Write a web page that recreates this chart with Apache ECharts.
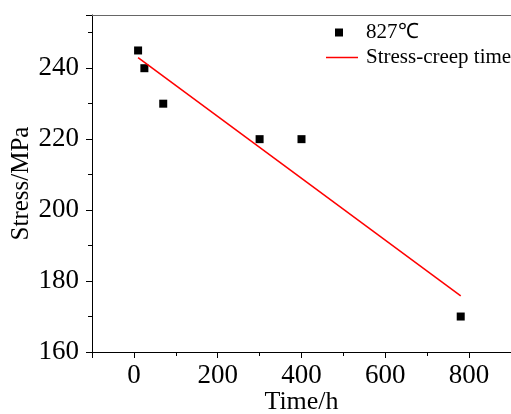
<!DOCTYPE html>
<html>
<head>
<meta charset="utf-8">
<script src="https://cdn.jsdelivr.net/npm/echarts@6/dist/echarts.min.js"></script>
<style>
  html, body { margin: 0; padding: 0; background: #fff; }
  #chart { width: 511px; height: 414px; }
</style>
</head>
<body>
<div id="chart"></div>
<script>
// measured points at 827 °C
let timeH = [10, 25, 70, 300, 400, 780];
let stressMPa = [245, 240, 230, 220, 220, 170];

// fitted line, end points
let fitTime = [10, 780];
let fitStress = [243, 175.8];

let serif = 'Liberation Serif';

let chart = echarts.init(document.getElementById('chart'));

chart.setOption({
  animation: false,
  textStyle: {fontFamily: serif},
  grid: {
    left: 92,
    top: 15,
    right: 0,
    bottom: 62,
    containLabel: false,
    outerBoundsMode: 'none'
  },
  legend: {
    left: 326,
    top: 22,
    padding: 0,
    orient: 'vertical',
    itemWidth: 32,
    itemHeight: 8,
    itemGap: 4,
    textStyle: {
      fontFamily: serif,
      fontSize: 21,
      color: '#000',
      padding: [0, 0, 0, 3]
    },
    data: [
      // square sits left of the icon box centre, like the original
      {name: '827\u2103', icon: 'path://M0,0L8,0L8,8L0,8ZM14,4L14,4'},
      {name: 'Stress-creep time', icon: 'path://M0,0L32,0L32,1.5L0,1.5Z'}
    ]
  },
  xAxis: [
    {
      type: 'value',
      min: -100,
      max: 900,
      splitNumber: 5,
      name: 'Time/h',
      nameLocation: 'middle',
      nameGap: 37,
      nameMoveOverlap: false,
      nameTextStyle: {fontFamily: serif, fontSize: 26, color: '#000'},
      axisLine: {onZero: false, lineStyle: {color: '#000', width: 1}},
      axisTick: {length: 6, lineStyle: {color: '#000'}},
      minorTick: {show: true, splitNumber: 2, length: 4, lineStyle: {color: '#000'}},
      splitLine: {show: false},
      axisLabel: {
        fontFamily: serif,
        fontSize: 27,
        color: '#000',
        margin: 10,
        formatter: function(v) {
          return v % 200 === 0 ? String(v) : '';
        }
      }
    },
    {
      type: 'value',
      position: 'top',
      min: -100,
      max: 900,
      axisLine: {show: true, onZero: false, lineStyle: {color: '#666', width: 1}},
      axisTick: {show: false},
      axisLabel: {show: false},
      splitLine: {show: false}
    }
  ],
  yAxis: {
    type: 'value',
    min: 160,
    max: 255,
    interval: 20,
    name: 'Stress/MPa',
    nameLocation: 'middle',
    nameGap: 58,
    nameMoveOverlap: false,
    nameTextStyle: {fontFamily: serif, fontSize: 25, color: '#000'},
    axisLine: {show: true, onZero: false, lineStyle: {color: '#000', width: 1}},
    axisTick: {show: true, length: 6, lineStyle: {color: '#000'}},
    minorTick: {show: true, splitNumber: 2, length: 4, lineStyle: {color: '#000'}},
    splitLine: {show: false},
    axisLabel: {
      fontFamily: serif,
      fontSize: 27,
      color: '#000',
      margin: 13,
      showMaxLabel: false,
      formatter: function(v) {
        return v % 20 === 0 ? String(v) : '';
      }
    }
  },
  series: [
    {
      name: '827\u2103',
      type: 'scatter',
      symbol: 'rect',
      symbolSize: 8,
      itemStyle: {color: '#000', opacity: 1},
      data: timeH.map(function(t, i) { return [t, stressMPa[i]]; })
    },
    {
      name: 'Stress-creep time',
      type: 'line',
      symbol: 'none',
      lineStyle: {color: '#ff0000', width: 1.5},
      itemStyle: {color: '#ff0000'},
      data: fitTime.map(function(t, i) { return [t, fitStress[i]]; })
    }
  ]
});
</script>
</body>
</html>
